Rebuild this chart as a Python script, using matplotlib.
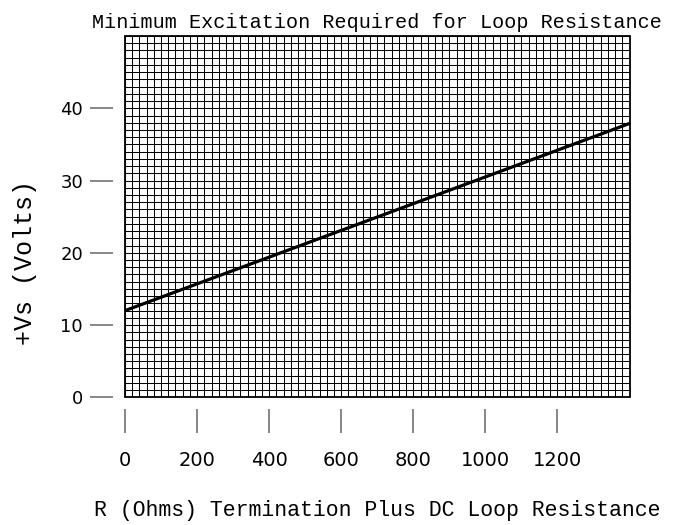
import matplotlib
matplotlib.use("Agg")
import matplotlib.pyplot as plt
from matplotlib.ticker import MultipleLocator, FixedLocator
from matplotlib.patches import Rectangle

# Data
resistance = [0, 1400]          # Ohms
voltage = [12.0, 37.9]          # Volts
x_ticks = [0, 200, 400, 600, 800, 1000, 1200]
y_ticks = [0, 10, 20, 30, 40]

title = "Minimum Excitation Required for Loop Resistance"
xlabel = "R (Ohms) Termination Plus DC Loop Resistance"
ylabel = "+Vs (Volts)"

mono = ["Liberation Mono", "DejaVu Sans Mono"]

fig = plt.figure(figsize=(6.78, 5.25), dpi=100)
ax = fig.add_axes([0.1844, 0.2432, 0.9285 - 0.1844, 0.9314 - 0.2432])

ax.set_xlim(0, 1400)
ax.set_ylim(0, 50)

ax.xaxis.set_major_locator(FixedLocator(x_ticks))
ax.yaxis.set_major_locator(FixedLocator(y_ticks))
ax.xaxis.set_minor_locator(MultipleLocator(20))
ax.yaxis.set_minor_locator(MultipleLocator(1))

ax.grid(which="both", color="black", linewidth=0.75)
ax.set_axisbelow(True)

ax.plot(resistance, voltage, color="black", linewidth=2.3, solid_capstyle="butt")

for s in ["left", "bottom"]:
    ax.spines[s].set_position(("outward", 8.6))
    ax.spines[s].set_color("none")
for s in ["top", "right"]:
    ax.spines[s].set_visible(False)
ax.add_patch(Rectangle((0, 0), 1, 1, transform=ax.transAxes, fill=False,
                       edgecolor="black", linewidth=1.3, clip_on=False, zorder=5))

ax.tick_params(which="minor", length=0)
ax.tick_params(axis="y", which="major", length=16.6, width=1.1, color="#666666",
               labelsize=13, pad=5)
ax.tick_params(axis="x", which="major", length=17, width=1.1, color="#666666",
               labelsize=14, pad=13)
ax.set_xticklabels([str(v) for v in x_ticks])
ax.set_yticklabels([str(v) for v in y_ticks])

ax.set_title(title, family=mono, fontsize=14.5, pad=6)
fig.text(0.556, 0.027, xlabel, family=mono, fontsize=15.5, ha="center", va="center")
fig.text(0.037, 0.50, ylabel, family=mono, fontsize=18, rotation=90,
         ha="center", va="center")

fig.savefig("out.png", dpi=100)
